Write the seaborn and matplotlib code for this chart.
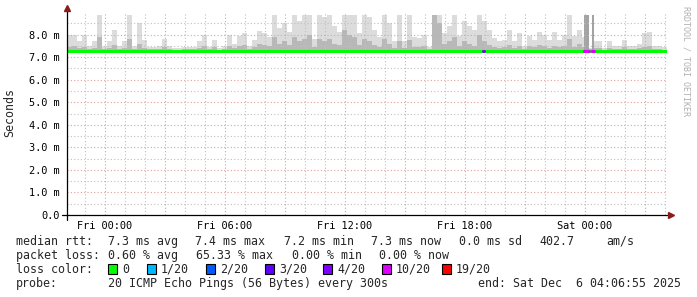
import numpy as np
import pandas as pd
import matplotlib
matplotlib.use("Agg")
import matplotlib.pyplot as plt
import matplotlib.dates as mdates
from matplotlib.patches import Rectangle
import seaborn as sns

# ---------------- data ----------------
start_time = "2025-12-04 22:06:55"
end_time = "2025-12-06 04:06:55"
bin_minutes = 15

median_ms = [7.28,7.27,7.27,7.28,7.26,7.26,7.27,7.27,7.26,7.27,7.27,7.28,7.27,7.26,7.27,7.27,7.26,7.27,7.27,7.27,
             7.26,7.27,7.27,7.27,7.26,7.27,7.27,7.28,7.27,7.27,7.27,7.28,7.28,7.27,7.28,7.27,7.27,7.28,7.28,7.28,
             7.28,7.29,7.28,7.28,7.29,7.28,7.29,7.28,7.29,7.28,7.28,7.29,7.28,7.28,7.29,7.28,7.28,7.29,7.28,7.28,
             7.28,7.28,7.28,7.29,7.28,7.28,7.28,7.27,7.28,7.28,7.27,7.28,7.28,7.29,7.29,7.28,7.28,7.28,7.28,7.28,
             7.28,7.28,7.28,7.27,7.28,7.27,7.27,7.27,7.28,7.27,7.27,7.27,7.27,7.27,7.27,7.27,7.27,7.27,7.27,7.27,
             7.27,7.27,7.27,7.27,7.27,7.27,7.26,7.26,7.27,7.27,7.27,7.26,7.26,7.27,7.27,7.27,7.27,7.27,7.27,7.27]

smoke_min = [7.19,7.20,7.19,7.20,7.19,7.19,7.20,7.19,7.19,7.20,7.19,7.20,7.19,7.19,7.20,7.19,7.19,7.20,7.19,7.19,
             7.19,7.20,7.19,7.19,7.19,7.20,7.19,7.20,7.19,7.19,7.20,7.20,7.19,7.20,7.20,7.19,7.20,7.20,7.20,7.20,
             7.20,7.21,7.20,7.20,7.21,7.20,7.21,7.20,7.21,7.20,7.20,7.21,7.20,7.20,7.21,7.20,7.20,7.21,7.20,7.20,
             7.20,7.20,7.20,7.21,7.20,7.20,7.20,7.19,7.20,7.20,7.19,7.20,7.20,7.21,7.21,7.20,7.20,7.20,7.20,7.20,
             7.20,7.20,7.20,7.19,7.20,7.19,7.19,7.19,7.20,7.19,7.19,7.19,7.19,7.19,7.19,7.19,7.19,7.19,7.19,7.19,
             7.19,7.19,7.19,7.19,7.19,7.19,7.18,7.18,7.19,7.19,7.19,7.18,7.18,7.19,7.19,7.19,7.19,7.19,7.19,7.19]

smoke_mid = [7.45,7.50,7.40,7.45,7.35,7.40,7.90,7.35,7.40,7.55,7.35,7.40,7.80,7.35,7.60,7.40,7.35,7.35,7.35,7.45,
             7.35,7.33,7.33,7.35,7.35,7.35,7.40,7.50,7.35,7.45,7.33,7.35,7.50,7.40,7.50,7.55,7.35,7.45,7.60,7.55,
             7.50,7.90,7.60,7.70,7.55,7.90,7.70,7.80,8.00,7.45,7.80,7.70,7.80,7.60,7.55,8.20,8.00,7.90,7.55,7.80,
             7.70,7.55,7.45,7.80,7.60,7.40,7.70,7.40,7.75,7.45,7.45,7.50,7.35,8.86,8.50,7.60,7.70,7.90,7.50,7.70,
             7.60,7.50,8.00,7.70,7.55,7.45,7.40,7.45,7.55,7.40,7.50,7.35,7.50,7.45,7.55,7.50,7.40,7.50,7.45,7.50,
             7.80,7.45,7.60,7.45,7.35,7.40,7.40,7.33,7.40,7.35,7.35,7.45,7.35,7.35,7.40,7.45,7.50,7.35,7.35,7.33]

smoke_max = [8.00,8.00,7.70,8.00,7.50,7.70,8.86,7.50,7.70,8.20,7.50,7.70,8.86,7.50,8.50,7.75,7.45,7.47,7.50,7.80,
             7.50,7.42,7.42,7.45,7.45,7.45,7.70,8.00,7.45,7.75,7.42,7.50,8.00,7.60,7.95,8.05,7.50,7.75,8.15,8.05,
             7.90,8.86,8.30,8.50,8.10,8.86,8.60,8.86,8.86,7.80,8.86,8.80,8.86,8.40,8.10,8.86,8.86,8.86,8.05,8.86,
             8.80,8.20,7.90,8.86,8.50,7.70,8.86,7.70,8.86,7.90,7.85,8.00,7.45,8.86,8.86,8.05,8.40,8.86,7.95,8.60,
             8.40,8.20,8.86,8.60,8.20,7.85,7.70,7.75,8.20,7.70,8.05,7.50,7.95,7.75,8.10,8.00,7.75,8.10,7.75,8.00,
             8.86,7.95,8.20,7.90,7.40,7.70,7.70,7.40,7.70,7.50,7.50,7.75,7.50,7.50,7.60,8.05,8.10,7.50,7.50,7.45]

# loss events (median colour changes) and the dark smoke blocks that go with them
loss_start = ["2025-12-05 18:54:00", "2025-12-05 23:57:00", "2025-12-06 00:21:00"]
loss_end = ["2025-12-05 18:59:00", "2025-12-06 00:14:00", "2025-12-06 00:27:00"]
loss_count = [4, 10, 10]
block_start = ["2025-12-05 23:57:00", "2025-12-06 00:21:00"]
block_end = ["2025-12-06 00:14:00", "2025-12-06 00:27:00"]
block_top = [8.87, 8.87]

loss_labels = ["0", "1/20", "2/20", "3/20", "4/20", "10/20", "19/20"]
loss_steps = [0, 1, 2, 3, 4, 10, 19]
loss_colors = ["#00ff00", "#00b8ff", "#0059ff", "#5e00ff", "#7e00ff", "#dd00ff", "#ff0000"]

rtt_stats = ["7.3 ms avg", "7.4 ms max", "7.2 ms min", "7.3 ms now", "0.0 ms sd", "402.7", "am/s"]
loss_stats = ["0.60 % avg", "65.33 % max", "0.00 % min", "0.00 % now"]
probe_text = "20 ICMP Echo Pings (56 Bytes) every 300s"
end_text = "end: Sat Dec  6 04:06:55 2025"

yticks = [0, 1, 2, 3, 4, 5, 6, 7, 8]
ytick_labels = ["0.0", "1.0 m", "2.0 m", "3.0 m", "4.0 m", "5.0 m", "6.0 m", "7.0 m", "8.0 m"]

# ---------------- drawing ----------------
sns.set_style("white")
MONO = "DejaVu Sans Mono"
plt.rcParams["font.family"] = [MONO, "DejaVu Sans"]

W, H = 697, 297
fig = plt.figure(figsize=(W / 100, H / 100), dpi=100)
fig.patch.set_facecolor("white")
ax = fig.add_axes([67 / W, 82 / H, 600 / W, 203 / H])
ax.set_facecolor("white")

t0 = pd.Timestamp(start_time)
t1 = pd.Timestamp(end_time)
times = pd.date_range(t0, periods=len(median_ms), freq=f"{bin_minutes}min")
tx = list(times) + [t1]

def ext(v):
    return list(v) + [v[-1]]

ax.fill_between(tx, ext(smoke_min), ext(median_ms), step="post", color="#c8c8c8", lw=0, zorder=1)
ax.fill_between(tx, ext(median_ms), ext(smoke_max), step="post", color="#dcdcdc", lw=0, zorder=1)
ax.fill_between(tx, ext(median_ms), ext(smoke_mid), step="post", color="#b8b8b8", lw=0, zorder=1.1)

for bs, be, bt in zip(block_start, block_end, block_top):
    ax.fill_between([pd.Timestamp(bs), pd.Timestamp(be)], [7.2, 7.2], [bt, bt],
                    color="#a3a3a3", lw=0, zorder=1.2)

ax.set_xlim(mdates.date2num(t0), mdates.date2num(t1))
ax.set_ylim(0, 9.0)

# grid (drawn over the smoke like rrdtool)
grey = "#c0c0c0"
red = "#e2a0a0"
dot = (0, (1, 2))
for v in np.arange(0.5, 9.0, 0.5):
    major = abs(v - round(v)) < 1e-9
    ax.axhline(v, color=red if major else grey, lw=0.8, ls=dot, zorder=2)
for t in pd.date_range(t0.ceil("h"), t1, freq="h"):
    major = t.hour % 3 == 0
    ax.axvline(mdates.date2num(t), color=red if major else grey, lw=0.8, ls=dot, zorder=2)

# median line
df = pd.DataFrame({"time": tx, "median": ext(median_ms)})
sns.lineplot(data=df, x="time", y="median", drawstyle="steps-post", color="#00ff00",
             lw=2.2, ax=ax, zorder=3, legend=False)
color_of = dict(zip(loss_steps, loss_colors))
for ls_, le_, lc in zip(loss_start, loss_end, loss_count):
    a, b = pd.Timestamp(ls_), pd.Timestamp(le_)
    idx = int((a - t0) / pd.Timedelta(minutes=bin_minutes))
    seg = pd.DataFrame({"time": [a, b], "median": [median_ms[idx], median_ms[idx]]})
    sns.lineplot(data=seg, x="time", y="median", color=color_of[lc], lw=2.2, ax=ax,
                 zorder=3.5, legend=False)

# axes look
for s in ax.spines.values():
    s.set_visible(False)
ax.set_xlabel("")
ax.set_ylabel("")
ticks6 = [t for t in pd.date_range(t0.ceil("h"), t1, freq="h") if t.hour % 6 == 0]
ax.set_xticks([mdates.date2num(t) for t in ticks6])
ax.set_xticklabels([t.strftime("%a %H:%M") for t in ticks6])
ax.set_yticks(yticks)
ax.set_yticklabels(ytick_labels)
ax.tick_params(axis="both", length=0, labelsize=7.4, colors="black")
ax.tick_params(axis="x", pad=4)
ax.tick_params(axis="y", pad=5)

axis_col = "black"
ax.plot([-5 / 600, 1.0], [0, 0], transform=ax.transAxes, color=axis_col, lw=0.9, clip_on=False, zorder=5)
ax.plot([0, 0], [-5 / 203, 1.005], transform=ax.transAxes, color=axis_col, lw=0.9, clip_on=False, zorder=5)
ax.plot([1.0 + 4 / 600], [0], marker=">", ms=4, color="#8b1a1a", transform=ax.transAxes, clip_on=False, zorder=6)
ax.plot([0], [1.0 + 4 / 203], marker="^", ms=4, color="#8b1a1a", transform=ax.transAxes, clip_on=False, zorder=6)

def ftxt(x, y, s, **kw):
    kw.setdefault("fontsize", 8.4)
    kw.setdefault("family", MONO)
    fig.text(x / W, 1 - y / H, s, va="baseline", **kw)

fig.text(10 / W, 1 - 113 / H, "Seconds", rotation=90, va="center", ha="center", fontsize=8.4, family=MONO)
fig.text(686 / W, 1 - 6 / H, "RRDTOOL / TOBI OETIKER", rotation=270, va="top", ha="center",
         fontsize=6.0, family=MONO, color="#b0b0b0")

# legend rows
r1, r2, r3, r4 = 245, 259, 273, 287
ftxt(16, r1, "median rtt:")
for x, s in zip([108, 195, 284, 371, 459, 539, 606], rtt_stats):
    ftxt(x, r1, s)
ftxt(16, r2, "packet loss:")
for x, s in zip([108, 196, 292, 379], loss_stats):
    ftxt(x, r2, s)
ftxt(16, r3, "loss color:")
box_x = [108, 147, 206, 265, 323, 382, 442]
for bx, lab, col in zip(box_x, loss_labels, loss_colors):
    fig.patches.append(Rectangle((bx / W, 1 - 274 / H), 9 / W, 10 / H, transform=fig.transFigure,
                                 facecolor=col, edgecolor="black", lw=0.8))
    ftxt(bx + 14, r3, lab)
ftxt(16, r4, "probe:")
ftxt(108, r4, probe_text)
fig.text(681 / W, 1 - r4 / H, end_text, va="baseline", ha="right", fontsize=8.4, family=MONO)

fig.savefig("out.png", dpi=100, facecolor="white")
